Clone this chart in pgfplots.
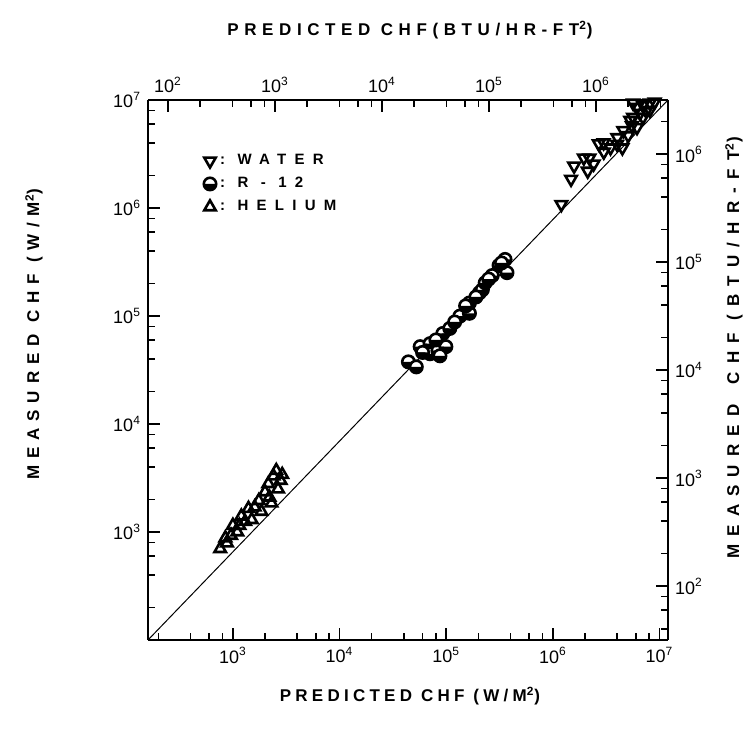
\documentclass[border=0pt]{standalone}
\usepackage{fontspec}
\setmainfont{Liberation Sans}
\newfontfamily\spaced[LetterSpace=40]{Liberation Sans}
\newfontfamily\spacedb[LetterSpace=25]{Liberation Sans}
\newfontfamily\spacedc[LetterSpace=33]{Liberation Sans}
\newfontfamily\spacedl[LetterSpace=55]{Liberation Sans}
\newfontfamily\spacedr[LetterSpace=48]{Liberation Sans}
\usepackage{pgfplots}
\pgfplotsset{compat=1.18}
\begin{document}
\begin{tikzpicture}
\path[use as bounding box] (-74pt,-50pt) rectangle (304pt,320pt);
\begin{axis}[
    xmode=log, ymode=log,
    xmin=160, xmax=1.2e7, ymin=100, ymax=1e7,
    scale only axis, width=260pt, height=270pt,
    axis x line*=bottom, axis y line*=left,
    axis line style={line width=0.9pt},
    tick style={black, line width=0.8pt},
    tick align=inside,
    major tick length=6pt, minor tick length=3.5pt,
    xtick={1e3,1e4,1e5,1e6,1e7},
    xticklabels={10\textsuperscript{3},10\textsuperscript{4},10\textsuperscript{5},10\textsuperscript{6},10\textsuperscript{7}},
    ytick={1e3,1e4,1e5,1e6,1e7},
    yticklabels={10\textsuperscript{3},10\textsuperscript{4},10\textsuperscript{5},10\textsuperscript{6},10\textsuperscript{7}},
    minor xtick={200,400,600,800,2000,4000,6000,8000,2e4,4e4,6e4,8e4,2e5,4e5,6e5,8e5,2e6,4e6,6e6,8e6},
    minor ytick={200,400,600,800,2000,4000,6000,8000,2e4,4e4,6e4,8e4,2e5,4e5,6e5,8e5,2e6,4e6,6e6,8e6},
    ticklabel style={font=\fontsize{9}{10}\selectfont},
    clip=false,
    legend style={at={(0.095,0.915)}, anchor=north west, draw=none, fill=none,
        font=\fontsize{7.5}{8}\selectfont\bfseries\spacedl, row sep=0.8pt},
    legend cell align=left,
]
% 45-degree reference line, corner to corner
\addplot[black, line width=0.5pt, forget plot] coordinates {(160,100) (1.2e7,1e7)};

% water
\addplot[only marks, mark=triangle, mark size=3.3pt,
    mark options={rotate=180, line width=1.3pt, fill=white}] coordinates {
    (1.20e6,1.08e6) (1.95e6,2.91e6) (2.12e6,2.20e6) (2.41e6,2.56e6)
    (2.69e6,3.94e6) (2.99e6,4.03e6) (3.47e6,3.61e6) (4.02e6,4.49e6)
    (4.57e6,5.22e6) (4.48e6,3.61e6) (5.31e6,6.49e6) (5.65e6,6.92e6)
    (6.15e6,8.59e6) (6.99e6,8.97e6) (8.11e6,9.37e6) (5.08e6,4.69e6)
    (6.15e6,5.57e6) (6.99e6,6.92e6) (8.11e6,8.05e6) (5.65e6,9.37e6)
    (6.56e6,7.55e6) (1.58e6,2.45e6) (1.48e6,1.85e6) (3.0e6,3.3e6)
    (4.0e6,3.9e6) (5.5e6,5.8e6) (7.5e6,7.9e6) (2.2e6,2.9e6) (9.0e6,9.6e6)
};
\addlegendentry{:\ WATER}

% R-12
\addplot[only marks, mark=halfcircle*, mark size=3.1pt,
    mark options={line width=1.3pt, fill=white, mark color=black}] coordinates {
    (44200,37600) (52400,33800) (57000,52000) (70500,55500) (70500,44700)
    (83600,47700) (93000,68900) (99200,52000) (87300,42800) (108000,76700)
    (134000,99600) (165000,106000) (165000,132000) (152000,124000)
    (205000,164000) (218000,175000) (232000,203000) (270000,237000)
    (313000,294000) (356000,334000) (371000,252000) (60000,46000)
    (120000,88000) (190000,150000) (250000,220000) (330000,310000) (80000,60000)
};
\addlegendentry{:\ R - 12}

% helium
\addplot[only marks, mark=triangle, mark size=3.3pt,
    mark options={line width=1.3pt, fill=white}] coordinates {
    (760,700) (880,790) (960,930) (1100,1000) (1300,1250) (1200,1400)
    (1400,1650) (1750,1950) (2000,2350) (2150,2800) (2550,3700)
    (2650,2500) (2300,1850) (1850,1550) (2800,3000) (2400,3300)
    (1000,1150) (1600,1700) (2200,2100) (1500,1300) (2900,3400)
    (1150,1150) (850,880)
};
\addlegendentry{:\ HELIUM}
\end{axis}

\begin{axis}[
    xmode=log, ymode=log,
    xmin=65, xmax=4.71e6, ymin=31.7, ymax=3.17e6,
    scale only axis, width=260pt, height=270pt,
    axis x line*=top, axis y line*=right,
    axis line style={line width=0.9pt},
    tick style={black, line width=0.8pt},
    tick align=inside,
    major tick length=6pt, minor tick length=3.5pt,
    xtick={1e2,1e3,1e4,1e5,1e6},
    xticklabels={10\textsuperscript{2},10\textsuperscript{3},10\textsuperscript{4},10\textsuperscript{5},10\textsuperscript{6}},
    ytick={1e2,1e3,1e4,1e5,1e6},
    yticklabels={10\textsuperscript{2},10\textsuperscript{3},10\textsuperscript{4},10\textsuperscript{5},10\textsuperscript{6}},
    minor xtick={200,400,600,800,2000,4000,6000,8000,2e4,4e4,6e4,8e4,2e5,4e5,6e5,8e5,2e6,4e6},
    minor ytick={40,60,80,200,400,600,800,2000,4000,6000,8000,2e4,4e4,6e4,8e4,2e5,4e5,6e5,8e5,2e6},
    ticklabel style={font=\fontsize{9}{10}\selectfont},
]
\end{axis}

\node[font=\fontsize{8.5}{10}\selectfont\bfseries\spacedb] at (131pt,-28pt)
    {PREDICTED CHF (W/M\textsuperscript{2})};
\node[font=\fontsize{8.5}{10}\selectfont\bfseries\spacedc] at (131pt,305pt)
    {PREDICTED CHF(BTU/HR-FT\textsuperscript{2})};
\node[font=\fontsize{8.5}{10}\selectfont\bfseries\spaced, rotate=90] at (-57pt,153pt)
    {MEASURED CHF (W/M\textsuperscript{2})};
\node[font=\fontsize{8.5}{10}\selectfont\bfseries\spacedr, rotate=90] at (293pt,146pt)
    {MEASURED\hspace{10pt}CHF (BTU/HR-FT\textsuperscript{2})};
\end{tikzpicture}
\end{document}
